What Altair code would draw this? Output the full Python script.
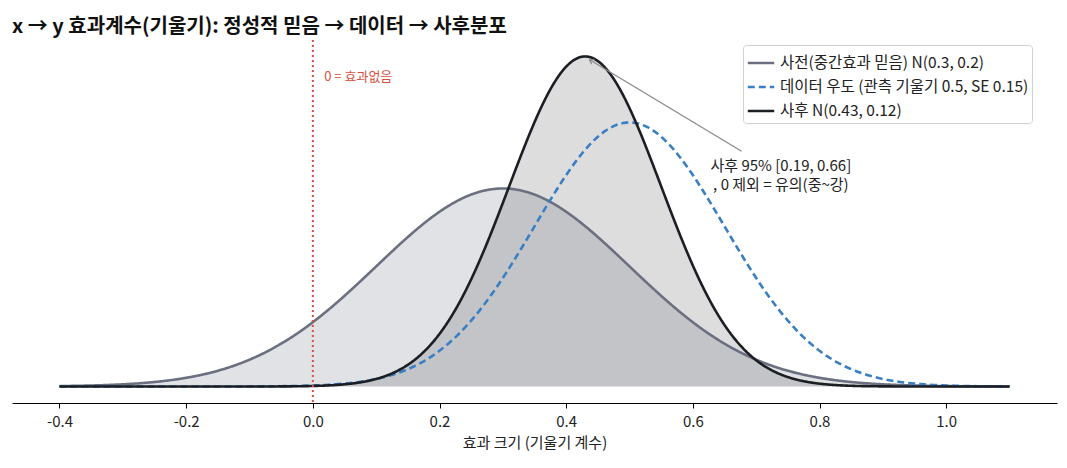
import altair as alt
import pandas as pd

FONT = "Noto Sans CJK KR"

title = "x → y 효과계수(기울기): 정성적 믿음 → 데이터 → 사후분포"
series = [
    "사전(중간효과 믿음) N(0.3, 0.2)",
    "데이터 우도 (관측 기울기 0.5, SE 0.15)",
    "사후 N(0.43, 0.12)",
]
keys = ["p0", "p1", "p2"]
means = [0.3, 0.5, 0.43]
sds = [0.2, 0.15, 0.12]
colors = ["#6b7080", "#3a7fc4", "#1b1e23"]
dashes = [[1, 0], [7, 4], [1, 0]]
widths = [2.6, 2.6, 4.0]

x_start, x_stop, x_step = -0.4, 1.1, 0.005
x_ticks = [-0.4, -0.2, 0.0, 0.2, 0.4, 0.6, 0.8, 1.0]

zero_label = ["0 = 효과없음"]
note_text = ["사후 95% [0.19, 0.66]\n, 0 제외 = 유의(중~강)"]
note_x = [0.739]
note_y = [2.22]
arrow_from = (0.677, 2.37)
arrow_to = (0.437, 3.29)

xs = alt.Scale(domain=[-0.475, 1.175], nice=False, zero=False)
ys = alt.Scale(domain=[-0.166, 3.49], nice=False, zero=False)

calc = {k: f"densityNormal(datum.x, {m}, {s})" for k, m, s in zip(keys, means, sds)}
base = alt.Chart(
    alt.sequence(start=x_start, stop=x_stop + x_step / 2, step=x_step, as_="x")
).transform_calculate(**calc)

X = alt.X("x:Q", scale=xs, axis=alt.Axis(
    values=x_ticks, title="효과 크기 (기울기 계수)",
    labelExpr="datum.value < 0 ? '-' + format(-datum.value, '.1f') : format(datum.value, '.1f')",
    grid=False, domainColor="#000", tickColor="#000", tickSize=5,
    labelFontSize=15, titleFontSize=15, titleFontWeight="normal",
    labelColor="#222", titleColor="#222", labelPadding=6, titlePadding=6))

prior_fill = base.mark_area(color=colors[0], opacity=0.2).encode(
    x=X, y=alt.Y("p0:Q", scale=ys, axis=None), y2=alt.datum(0))
post_fill = base.mark_area(color=colors[2], opacity=0.15).encode(
    x="x:Q", y="p2:Q", y2=alt.datum(0))

names = pd.DataFrame({"key": keys, "series": series})
legend = alt.Legend(
    orient="none", legendX=731, legendY=5, title=None,
    fillColor="white", strokeColor="#d0d0d0", cornerRadius=3, padding=3,
    symbolType="stroke", symbolSize=700, labelFontSize=15.5, labelFont=FONT,
    labelColor="#222", labelLimit=400, rowPadding=-4.5)
lines = base.transform_fold(keys, as_=["key", "density"]).transform_lookup(
    lookup="key", from_=alt.LookupData(names, "key", ["series"])
).mark_line().encode(
    x="x:Q",
    y="density:Q",
    detail="key:N",
    color=alt.Color("series:N", scale=alt.Scale(domain=series, range=colors),
                    sort=series, legend=legend),
    strokeDash=alt.StrokeDash("series:N", scale=alt.Scale(domain=series, range=dashes),
                              sort=series, legend=legend),
    strokeWidth=alt.StrokeWidth("series:N", scale=alt.Scale(domain=series, range=widths),
                                sort=series, legend=legend),
    order="x:Q",
)

zero_df = pd.DataFrame({"x": [0.0]})
rule = alt.Chart(zero_df).mark_rule(color="#d6503f", strokeDash=[2, 3], strokeWidth=2).encode(x="x:Q")
zero_text = alt.Chart(pd.DataFrame({"x": [0.018], "y": [3.12], "t": zero_label})).mark_text(
    align="left", baseline="middle", color="#d6503f", fontSize=13, font=FONT
).encode(x="x:Q", y="y:Q", text="t:N")

arrow_df = pd.DataFrame({"x": [arrow_from[0]], "y": [arrow_from[1]],
                         "x2": [arrow_to[0]], "y2": [arrow_to[1]]})
arrow = alt.Chart(arrow_df).mark_rule(color="#888888", strokeWidth=1.2).encode(
    x="x:Q", y="y:Q", x2="x2:Q", y2="y2:Q")
head = alt.Chart(arrow_df).mark_point(
    shape="M-0.6,0.9L0,0L0.6,0.9", filled=False, color="#888888",
    strokeWidth=1.2, size=80, angle=301, opacity=1
).encode(x="x2:Q", y="y2:Q")

note = alt.Chart(pd.DataFrame({"x": note_x, "y": note_y, "t": note_text})).mark_text(
    align="center", baseline="middle", fontSize=15, font=FONT, color="#222",
    lineBreak="\n", lineHeight=19
).encode(x="x:Q", y="y:Q", text="t:N")

chart = alt.layer(
    prior_fill, post_fill, lines, rule, zero_text, arrow, head, note
).properties(
    width=1045, height=363,
    title=alt.TitleParams(title, anchor="start", fontSize=20, fontWeight="bold",
                          font=FONT, color="#111", offset=2),
    padding={"left": 4, "top": 32, "right": 2, "bottom": 58},
    autosize=alt.AutoSizeParams(type="none"),
).configure_view(stroke=None).configure_axis(labelFont=FONT, titleFont=FONT)

chart.save("out.html", embed_options={"renderer": "svg", "actions": False})
